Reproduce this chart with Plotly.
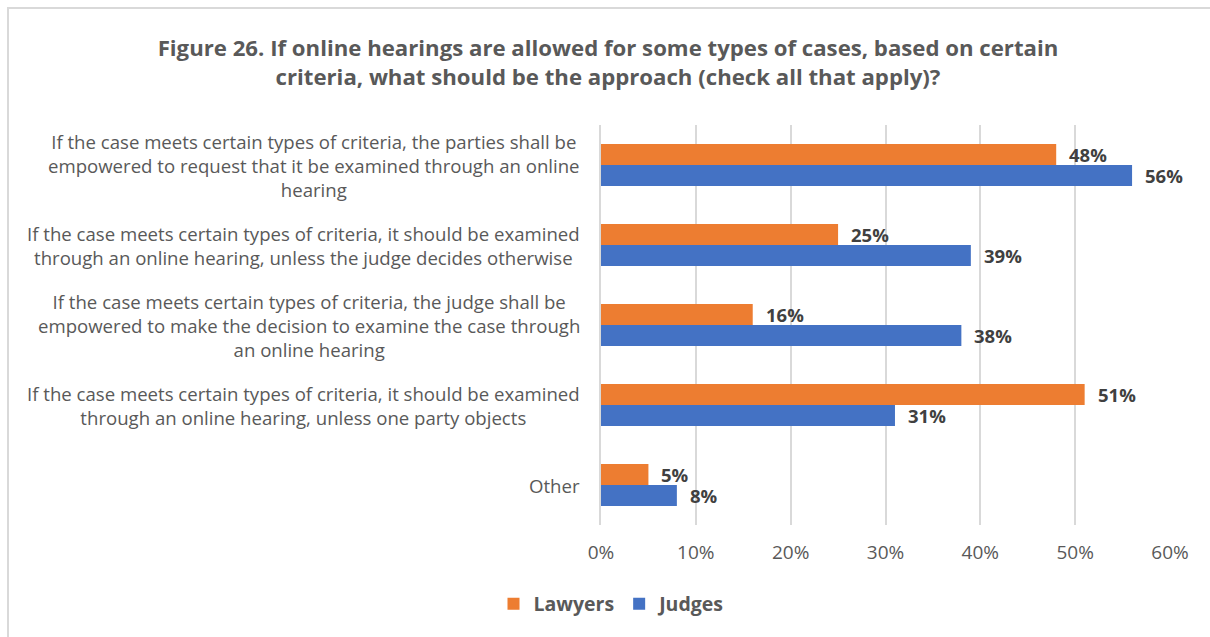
import plotly.graph_objects as go

# Survey answers (share of respondents, %)
categories = [
    "If the case meets certain types of criteria, the parties shall be<br>empowered to request that it be examined through an online<br>hearing",
    "If the case meets certain types of criteria, it should be examined<br>through an online hearing, unless the judge decides otherwise",
    "If the case meets certain types of criteria, the judge shall be<br>empowered to make the decision to examine the case through<br>an online hearing",
    "If the case meets certain types of criteria, it should be examined<br>through an online hearing, unless one party objects",
    "Other",
]
lawyers = [48, 25, 16, 51, 5]
judges = [56, 39, 38, 31, 8]
x_ticks = [0, 10, 20, 30, 40, 50, 60]

ORANGE = "#ED7D31"
BLUE = "#4472C4"
GRID = "#D9D9D9"
TEXT = "#595959"
LABEL = "#404040"
FONT = "Open Sans"

W, H = 1210, 637
L, R, T, B = 601, 40, 125, 112
PW, PH = W - L - R, H - T - B


def px_x(p):
    return (p - L) / PW


def px_y(p):
    return (H - B - p) / PH


fig = go.Figure()
fig.add_trace(go.Bar(name="Lawyers", y=categories, x=lawyers, orientation="h",
                     marker=dict(color=ORANGE, line=dict(width=0))))
fig.add_trace(go.Bar(name="Judges", y=categories, x=judges, orientation="h",
                     marker=dict(color=BLUE, line=dict(width=0))))

annotations = []
# value labels just past each bar end
for vals, shift in ((lawyers, 10.5), (judges, -10.5)):
    for cat, v in zip(categories, vals):
        annotations.append(dict(
            x=v, y=cat, xref="x", yref="y", text=f"<b>{v}%</b>",
            showarrow=False, xanchor="left", yanchor="middle",
            xshift=11, yshift=shift,
            font=dict(family=FONT, size=18.5, color=LABEL)))
# category labels, centred line by line, right edge near the axis
for cat in categories:
    annotations.append(dict(
        x=px_x(582), y=cat, xref="paper", yref="y", text=cat,
        showarrow=False, xanchor="right", yanchor="middle", align="center",
        font=dict(family=FONT, size=18.6, color=TEXT)))

fig.update_layout(
    width=W, height=H,
    margin=dict(l=L, r=R, t=T, b=B),
    paper_bgcolor="white", plot_bgcolor="white",
    barmode="group", bargap=0.475, bargroupgap=0,
    font=dict(family=FONT, color=TEXT),
    title=dict(
        text="<b>Figure 26. If online hearings are allowed for some types of cases, based on certain<br>criteria, what should be the approach (check all that apply)?</b>",
        x=608 / W, xanchor="center", xref="container",
        y=1 - 56 / H, yanchor="middle", yref="container",
        font=dict(family=FONT, size=22.2, color=TEXT)),
    xaxis=dict(range=[0, 60], tickvals=x_ticks, ticktext=[f"{t}%" for t in x_ticks],
               showgrid=True, gridcolor=GRID, gridwidth=1.5, zeroline=False,
               showline=False, ticks="", ticklabelstandoff=14,
               tickfont=dict(family=FONT, size=19, color=TEXT)),
    yaxis=dict(autorange="reversed", showticklabels=False, showgrid=False,
               showline=True, linecolor=GRID, linewidth=1.5, zeroline=False, ticks=""),
    legend=dict(orientation="h", x=px_x(612), xanchor="center",
                y=px_y(604), yanchor="middle",
                font=dict(family=FONT, size=19.5, color=TEXT, weight="bold"),
                itemwidth=30, traceorder="normal"),
    annotations=annotations,
    shapes=[dict(type="rect", xref="paper", yref="paper",
                 x0=px_x(8), x1=px_x(1220), y0=px_y(8), y1=px_y(650),
                 line=dict(color=GRID, width=2), fillcolor="rgba(0,0,0,0)",
                 layer="below")],
)

fig.write_html("out.html")
